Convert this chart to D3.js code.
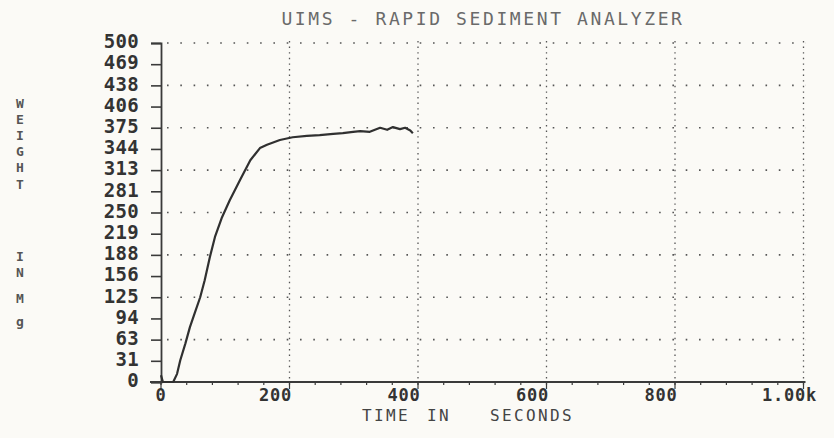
<!DOCTYPE html>
<html><head><meta charset="utf-8">
<script src="https://cdn.jsdelivr.net/npm/d3@7"></script>
<style>
html,body{margin:0;padding:0;background:#fbfaf6;}
svg{display:block;}
text{font-family:"DejaVu Sans Mono",monospace;}
</style></head>
<body>
<svg id="chart" width="834" height="438"></svg>
<script>
// ---- data ----
const timeSec = [0,3,10,19,25,30,38,45,53,61,68,76,84,95,107,123,139,154,165,185,205,227,247,268,283,299,310,325,341,352,361,372,380,388,392];
const weightMg = [10,0,0,0,12,32,57,81,103,125,150,184,214,243,268,298,327,345,350,357,361,363,364,366,367,369,370,369,375,372,376,373,375,371,367];
const yTickLabels = ["0","31","63","94","125","156","188","219","250","281","313","344","375","406","438","469","500"];
const xTickValues = [0,200,400,600,800,1000];
const xTickLabels = ["0","200","400","600","800","1.00k"];
const titleText = "UIMS - RAPID SEDIMENT ANALYZER";
const xTitleWords = ["TIME","IN","SECONDS"];
const yTitleLetters = ["W","E","I","G","H","T","I","N","M","g"];

// ---- layout ----
const svg = d3.select("#chart");
const x = d3.scaleLinear().domain([0,1000]).range([161,803.5]);
const y = d3.scaleLinear().domain([0,500]).range([382,43]);
const ink = "#3a3a3a";

svg.append("rect").attr("width",834).attr("height",438).attr("fill","#fbfaf6");

// horizontal dotted grid (every other tick)
const yTickVals = yTickLabels.map((d,i)=> i*500/16);
const hGrid = yTickVals.filter((d,i)=> i>0 && i%2===0);
svg.append("g").selectAll("line").data(hGrid).join("line")
  .attr("x1",x(0)+6).attr("x2",x(1000)+2)
  .attr("y1",d=>y(d)).attr("y2",d=>y(d))
  .attr("stroke","#555").attr("stroke-width",1.6)
  .attr("stroke-dasharray","1.6 11.7");

// vertical dotted grid
svg.append("g").selectAll("line").data(xTickValues.slice(1)).join("line")
  .attr("x1",d=>x(d)).attr("x2",d=>x(d))
  .attr("y1",y(500)-2).attr("y2",y(0))
  .attr("stroke","#555").attr("stroke-width",1.3)
  .attr("stroke-dasharray","1.4 4.2");

// y axis
const yAxis = d3.axisLeft(y).tickValues(yTickVals).tickSize(10)
  .tickFormat((d,i)=>yTickLabels[i]).tickPadding(12);
const gy = svg.append("g").attr("transform",`translate(${x(0)},0)`).call(yAxis);
gy.select(".domain").attr("stroke",ink).attr("stroke-width",1.8);
gy.selectAll(".tick line").attr("stroke",ink).attr("stroke-width",1.6);
gy.selectAll(".tick text").attr("fill","#333").attr("font-size",19)
  .attr("font-weight","bold").attr("dy","0.25em").attr("letter-spacing",0.3);

// x axis baseline
svg.append("line").attr("x1",x(0)-11).attr("x2",x(1000)+2)
  .attr("y1",y(0)).attr("y2",y(0)).attr("stroke",ink).attr("stroke-width",2);
// minor ticks
svg.append("g").selectAll("line").data(d3.range(0,1001,40)).join("line")
  .attr("x1",d=>x(d)).attr("x2",d=>x(d))
  .attr("y1",y(0)).attr("y2",y(0)+3).attr("stroke",ink).attr("stroke-width",1.2);
// major ticks
svg.append("g").selectAll("line").data(xTickValues).join("line")
  .attr("x1",d=>x(d)).attr("x2",d=>x(d))
  .attr("y1",y(0)).attr("y2",y(0)+7).attr("stroke",ink).attr("stroke-width",1.2);
// x tick labels
svg.append("g").selectAll("text").data(xTickValues).join("text")
  .attr("x",(d,i)=> x(d) + (i===0?0:-14))
  .attr("y",401).attr("text-anchor","middle")
  .attr("font-size",17).attr("font-weight","bold").attr("fill","#333")
  .attr("letter-spacing",0.8)
  .text((d,i)=>xTickLabels[i]);

// curve
const line = d3.line().x((d,i)=>x(timeSec[i])).y(d=>y(d)).curve(d3.curveLinear);
svg.append("path").datum(weightMg).attr("d",line)
  .attr("fill","none").attr("stroke","#303030").attr("stroke-width",2.2)
  .attr("stroke-linejoin","round");

// title
svg.append("text").attr("x",483).attr("y",25).attr("text-anchor","middle")
  .attr("font-size",18).attr("letter-spacing",2.6).attr("fill","#6a6a6a")
  .text(titleText);

// x axis title
const xTitleX = [386,439,532];
svg.append("g").selectAll("text").data(xTitleWords).join("text")
  .attr("x",(d,i)=>xTitleX[i]).attr("y",421).attr("text-anchor","middle")
  .attr("font-size",16).attr("letter-spacing",2.4).attr("fill","#444")
  .text(d=>d);

// y axis title (stacked letters)
const yTitleY = [108,124,140,156,172,189,261,277,303,326];
svg.append("g").selectAll("text").data(yTitleLetters).join("text")
  .attr("x",20).attr("y",(d,i)=>yTitleY[i]).attr("text-anchor","middle")
  .attr("font-size",13).attr("font-weight","bold").attr("fill","#555")
  .text(d=>d);
</script>
</body></html>
